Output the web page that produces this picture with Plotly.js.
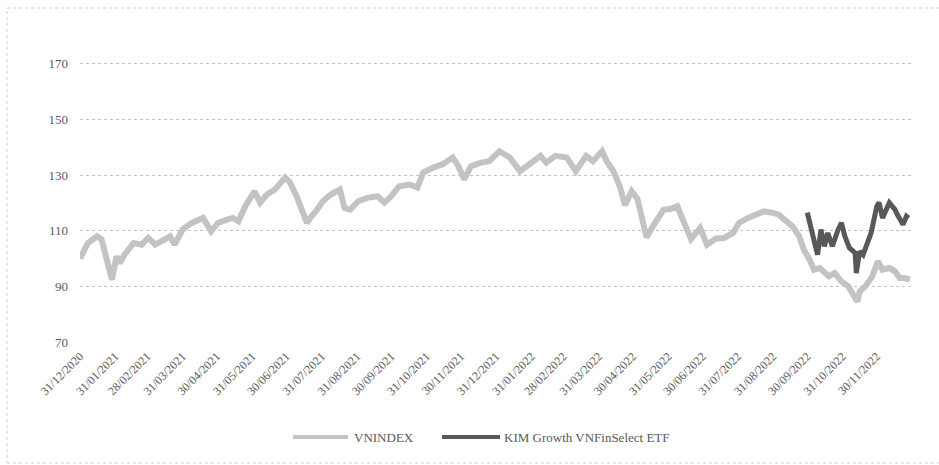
<!DOCTYPE html>
<html>
<head>
<meta charset="utf-8">
<script src="https://cdn.plot.ly/plotly-3.0.1.min.js"></script>
<style>
  html, body { margin: 0; padding: 0; background: #ffffff; }
  #chart { width: 939px; height: 465px; }
</style>
</head>
<body>
<div id="chart"></div>
<script>
// ---- Data (normalised to 100 at 31/12/2020) ----
const vnDates = [
  "2020-12-31","2021-01-07","2021-01-15","2021-01-19","2021-01-22","2021-01-28",
  "2021-02-01","2021-02-04","2021-02-08","2021-02-16","2021-02-23","2021-03-01",
  "2021-03-07","2021-03-14","2021-03-20","2021-03-24","2021-03-31","2021-04-08",
  "2021-04-18","2021-04-25","2021-05-01","2021-05-09","2021-05-14","2021-05-19",
  "2021-05-25","2021-06-02","2021-06-07","2021-06-13","2021-06-20","2021-06-29",
  "2021-07-03","2021-07-09","2021-07-13","2021-07-18","2021-07-22","2021-07-26",
  "2021-08-01","2021-08-08","2021-08-16","2021-08-20","2021-08-25","2021-09-01",
  "2021-09-09","2021-09-18","2021-09-24","2021-09-30","2021-10-07","2021-10-16",
  "2021-10-23","2021-10-28","2021-11-06","2021-11-14","2021-11-23","2021-11-28",
  "2021-12-03","2021-12-09","2021-12-18","2021-12-25","2022-01-03","2022-01-12",
  "2022-01-21","2022-01-30","2022-02-08","2022-02-13","2022-02-21","2022-03-03",
  "2022-03-11","2022-03-20","2022-03-26","2022-04-03","2022-04-07","2022-04-13",
  "2022-04-19","2022-04-23","2022-04-29","2022-05-04","2022-05-08","2022-05-12",
  "2022-05-17","2022-05-21","2022-05-27","2022-06-02","2022-06-08","2022-06-13",
  "2022-06-20","2022-06-28","2022-07-04","2022-07-12","2022-07-19","2022-07-27",
  "2022-08-01","2022-08-09","2022-08-16","2022-08-23","2022-08-31","2022-09-05",
  "2022-09-10","2022-09-17","2022-09-23","2022-09-27","2022-10-02","2022-10-06",
  "2022-10-11","2022-10-15","2022-10-19","2022-10-24","2022-10-30","2022-11-05",
  "2022-11-11","2022-11-13","2022-11-15","2022-11-20","2022-11-26","2022-12-01",
  "2022-12-05","2022-12-11","2022-12-16","2022-12-20","2022-12-24","2022-12-29"
];
const vnValues = [
  100.0,105.6,108.0,106.8,102.0,92.4,
  100.8,98.4,101.4,105.6,105.0,107.4,
  105.0,106.8,108.0,105.0,110.4,112.8,
  114.6,109.8,112.8,114.0,114.6,113.4,
  118.8,124.2,120.1,123.0,124.8,129.1,
  127.5,122.4,117.6,112.8,115.2,117.0,
  120.6,123.0,124.8,118.2,117.6,120.6,
  121.8,122.4,120.1,122.4,126.0,126.6,
  125.5,130.9,132.7,133.9,136.3,133.2,
  128.5,133.2,134.5,135.0,138.6,136.3,
  131.4,134.5,136.9,134.5,136.9,136.3,
  131.4,136.9,135.0,138.6,135.0,131.4,
  125.4,119.2,124.2,121.5,115.2,107.6,
  111.2,113.5,117.6,117.8,118.8,113.8,
  107.0,111.0,105.0,107.2,107.4,109.2,
  112.8,114.6,115.8,117.0,116.4,115.8,
  114.0,111.6,108.0,103.2,99.6,96.0,
  96.6,95.4,93.6,94.8,91.8,90.0,
  85.5,84.5,88.2,90.0,93.6,99.0,
  96.0,96.6,95.4,93.0,93.0,92.4
];
const kimDates = [
  "2022-09-30","2022-10-03","2022-10-09","2022-10-12","2022-10-15","2022-10-18",
  "2022-10-22","2022-10-27","2022-10-30","2022-11-02","2022-11-06","2022-11-11",
  "2022-11-12","2022-11-15","2022-11-18","2022-11-25","2022-11-30","2022-12-02",
  "2022-12-05","2022-12-11","2022-12-16","2022-12-18","2022-12-23","2022-12-26",
  "2022-12-28"
];
const kimValues = [
  116.5,111.6,101.4,110.4,104.4,109.2,
  104.4,110.4,112.8,108.0,103.8,102.0,
  94.8,102.6,101.4,109.2,118.8,120.1,
  114.6,120.1,117.6,115.8,112.2,115.2,
  114.6
];
const seriesNames = ["VNINDEX", "KIM Growth VNFinSelect ETF"];
const tickDates = [
  "2020-12-31","2021-01-31","2021-02-28","2021-03-31","2021-04-30","2021-05-31",
  "2021-06-30","2021-07-31","2021-08-31","2021-09-30","2021-10-31","2021-11-30",
  "2021-12-31","2022-01-31","2022-02-28","2022-03-31","2022-04-30","2022-05-31",
  "2022-06-30","2022-07-31","2022-08-31","2022-09-30","2022-10-31","2022-11-30"
];
const tickLabels = [
  "31/12/2020","31/01/2021","28/02/2021","31/03/2021","30/04/2021","31/05/2021",
  "30/06/2021","31/07/2021","31/08/2021","30/09/2021","31/10/2021","30/11/2021",
  "31/12/2021","31/01/2022","28/02/2022","31/03/2022","30/04/2022","31/05/2022",
  "30/06/2022","31/07/2022","31/08/2022","30/09/2022","31/10/2022","30/11/2022"
];
const yTicks = [70, 90, 110, 130, 150, 170];

// ---- Styling ----
const VN_COLOR = "#c3c3c3";
const KIM_COLOR = "#585858";
const TEXT_COLOR = "#5a5a5a";
const FONT = "'Liberation Serif', 'DejaVu Serif', serif";

const traces = [
  { x: vnDates, y: vnValues, name: seriesNames[0], type: "scatter", mode: "lines",
    line: { color: VN_COLOR, width: 6, shape: "linear" }, showlegend: false },
  { x: kimDates, y: kimValues, name: seriesNames[1], type: "scatter", mode: "lines",
    line: { color: KIM_COLOR, width: 5, shape: "linear" }, showlegend: false }
];

// pixel -> paper helpers for decoration (plot area: x 80..911, y 36..342)
const PL = 80, PW = 831, PT = 36, PH = 306;
const px = v => (v - PL) / PW;
const py = v => (PT + PH - v) / PH;

const legendY = 437;
const layout = {
  width: 939, height: 465,
  margin: { l: PL, r: 939 - PL - PW, t: PT, b: 465 - PT - PH, pad: 0 },
  paper_bgcolor: "#ffffff", plot_bgcolor: "#ffffff",
  font: { family: FONT, size: 13, color: TEXT_COLOR },
  showlegend: false,
  xaxis: {
    type: "date",
    range: ["2020-12-31", "2022-12-30"],
    tickmode: "array", tickvals: tickDates, ticktext: tickLabels,
    tickangle: -45, showgrid: false, zeroline: false, showline: false,
    ticks: "", ticklabelstandoff: 4,
    tickfont: { family: FONT, size: 12, color: TEXT_COLOR }
  },
  yaxis: {
    range: [70, 180],
    tickmode: "array", tickvals: yTicks,
    showgrid: true, gridcolor: "#c4c4c4", gridwidth: 1, griddash: "dot",
    zeroline: false, showline: false, ticks: "", ticklabelstandoff: 11,
    tickfont: { family: FONT, size: 13, color: TEXT_COLOR }
  },
  shapes: [
    { type: "rect", xref: "paper", yref: "paper",
      x0: px(7), x1: px(945), y0: py(463), y1: py(8),
      line: { color: "#cfcfcf", width: 1, dash: "dot" }, fillcolor: "rgba(0,0,0,0)", layer: "below" },
    { type: "line", xref: "paper", yref: "paper",
      x0: px(293), x1: px(348), y0: py(legendY), y1: py(legendY),
      line: { color: VN_COLOR, width: 4 } },
    { type: "line", xref: "paper", yref: "paper",
      x0: px(442), x1: px(500), y0: py(legendY), y1: py(legendY),
      line: { color: KIM_COLOR, width: 4 } }
  ],
  annotations: [
    { xref: "paper", yref: "paper", x: px(352), y: py(legendY), xanchor: "left", yanchor: "middle",
      text: seriesNames[0], showarrow: false, font: { family: FONT, size: 13, color: TEXT_COLOR } },
    { xref: "paper", yref: "paper", x: px(502), y: py(legendY), xanchor: "left", yanchor: "middle",
      text: seriesNames[1], showarrow: false, font: { family: FONT, size: 13, color: TEXT_COLOR } }
  ]
};

Plotly.newPlot("chart", traces, layout, { staticPlot: true, displayModeBar: false });
</script>
</body>
</html>
